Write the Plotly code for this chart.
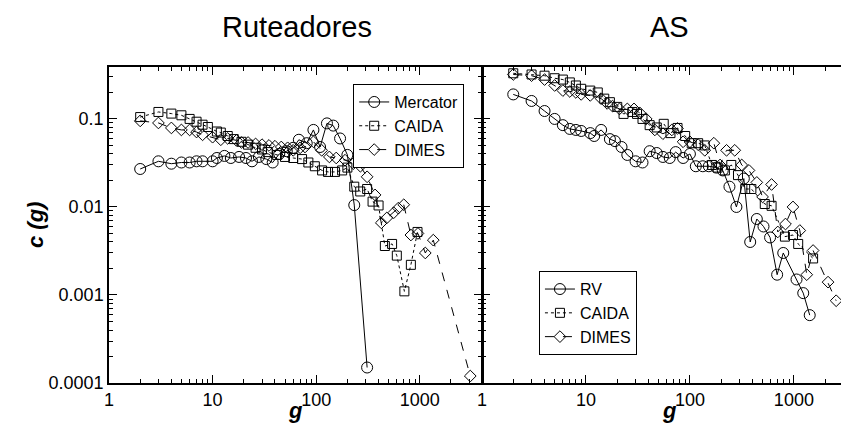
import plotly.graph_objects as go
from plotly.subplots import make_subplots

# ---- Left panel: Ruteadores ----
merc_g = [2, 3, 4, 5, 6, 7, 8, 10, 11, 13, 15, 18, 21, 24, 28, 33, 38, 44, 52, 60, 68, 81, 94, 109, 127, 146, 170, 200, 233, 310]
merc_c = [0.027, 0.033, 0.031, 0.032, 0.032, 0.033, 0.033, 0.033, 0.036, 0.038, 0.036, 0.037, 0.036, 0.033, 0.037,
          0.035, 0.032, 0.040, 0.043, 0.047, 0.058, 0.053, 0.075, 0.048, 0.089, 0.084, 0.060, 0.039, 0.0105, 0.00015]

caida_r_g = [2, 3, 4, 5, 6, 7, 8, 9, 11, 12, 14, 16, 19, 22, 26, 30, 34, 42, 50, 60, 73, 84, 97, 114, 130, 152, 178,
             200, 233, 266, 310, 350, 400, 460, 540, 600, 710, 820, 950]
caida_r_c = [0.105, 0.12, 0.115, 0.11, 0.10, 0.093, 0.086, 0.081, 0.072, 0.07, 0.064, 0.059, 0.055, 0.051, 0.047,
             0.045, 0.042, 0.039, 0.037, 0.036, 0.035, 0.032, 0.029, 0.026, 0.025, 0.025, 0.026, 0.028, 0.017,
             0.015, 0.016, 0.0115, 0.0104, 0.0036, 0.0038, 0.0028, 0.0011, 0.0022, 0.0052]

dimes_r_g = [2, 3, 4, 5, 6, 7, 8, 10, 12, 14, 17, 19, 22, 26, 30, 35, 40, 46, 53, 60, 70, 78, 94, 113, 134, 156, 190,
             228, 267, 310, 370, 425, 480, 560, 620, 700, 820, 960, 1130, 1350, 3070]
dimes_r_c = [0.095, 0.09, 0.079, 0.075, 0.075, 0.071, 0.066, 0.062, 0.058, 0.06, 0.057, 0.054, 0.054, 0.052, 0.051,
             0.05, 0.049, 0.048, 0.047, 0.044, 0.047, 0.048, 0.055, 0.044, 0.037, 0.036, 0.034, 0.031, 0.029,
             0.022, 0.0137, 0.0066, 0.0075, 0.0086, 0.0097, 0.0106, 0.0048, 0.005, 0.003, 0.0042, 0.00012]

# ---- Right panel: AS ----
rv_g = [2, 3, 4, 5, 6, 7, 8, 9, 11, 12, 14, 17, 19, 22, 25, 30, 35, 41, 48, 55, 64, 73, 86, 100, 114, 133, 152, 180,
        207, 240, 280, 330, 380, 440, 510, 590, 690, 790, 1060, 1230, 1420]
rv_c = [0.19, 0.16, 0.123, 0.10, 0.085, 0.077, 0.075, 0.073, 0.069, 0.064, 0.075, 0.059, 0.056, 0.048, 0.039, 0.033,
        0.032, 0.043, 0.041, 0.037, 0.036, 0.042, 0.036, 0.040, 0.029, 0.029, 0.029, 0.028, 0.026, 0.017, 0.010,
        0.021, 0.004, 0.0073, 0.006, 0.0045, 0.0017, 0.003, 0.0015, 0.00105, 0.00059]

caida_a_g = [2, 3, 4, 5, 6, 7, 8, 9, 11, 13, 15, 17, 20, 23, 28, 31, 35, 41, 48, 56, 65, 76, 90, 104, 120, 139, 163,
             185, 217, 250, 290, 340, 390, 525, 610, 820, 980, 1100, 1530]
caida_a_c = [0.33, 0.32, 0.31, 0.29, 0.28, 0.26, 0.24, 0.22, 0.21, 0.20, 0.17, 0.155, 0.137, 0.114, 0.12, 0.114, 0.10,
             0.085, 0.08, 0.088, 0.069, 0.079, 0.064, 0.053, 0.053, 0.05, 0.030, 0.028, 0.026, 0.030, 0.023, 0.016,
             0.016, 0.0108, 0.0103, 0.0046, 0.0048, 0.0038, 0.0026]

dimes_a_g = [2, 3, 4, 5, 6, 7, 8, 9, 11, 14, 16, 18, 21, 25, 29, 33, 38, 46, 55, 67, 76, 86, 100, 120, 139, 170, 195,
             225, 270, 315, 370, 440, 500, 610, 700, 830, 980, 1140, 1330, 1530, 2130, 2550]
dimes_a_c = [0.32, 0.31, 0.28, 0.24, 0.21, 0.205, 0.2, 0.19, 0.185, 0.17, 0.15, 0.14, 0.13, 0.13, 0.13, 0.117, 0.10,
             0.075, 0.068, 0.075, 0.078, 0.055, 0.055, 0.051, 0.044, 0.053, 0.030, 0.044, 0.044, 0.030, 0.026,
             0.019, 0.013, 0.018, 0.0052, 0.0064, 0.010, 0.0054, 0.0017, 0.0032, 0.0014, 0.00086]

x_tickvals = [1, 10, 100, 1000]
x_ticktext = ["1", "10", "100", "1000"]
y_tickvals = [0.0001, 0.001, 0.01, 0.1]
y_ticktext = ["0.0001", "0.001", "0.01", "0.1"]

FONT = "Liberation Sans, Arial, sans-serif"

fig = make_subplots(rows=1, cols=2, horizontal_spacing=0, shared_yaxes=False)

def add(g, c, name, symbol, dash, col, legend, size):
    fig.add_trace(go.Scatter(
        x=g, y=c, name=name, mode="lines+markers",
        line=dict(color="black", width=1, dash=dash),
        marker=dict(symbol=symbol, size=size, color="black", line=dict(width=1, color="black")),
        legend=legend), row=1, col=col)

add(merc_g, merc_c, "Mercator", "circle-open", "solid", 1, "legend", 11)
add(caida_r_g, caida_r_c, "CAIDA", "square-open", "dot", 1, "legend", 9)
add(dimes_r_g, dimes_r_c, "DIMES", "diamond-open", "dash", 1, "legend", 9)
add(rv_g, rv_c, "RV", "circle-open", "solid", 2, "legend2", 11)
add(caida_a_g, caida_a_c, "CAIDA", "square-open", "dot", 2, "legend2", 9)
add(dimes_a_g, dimes_a_c, "DIMES", "diamond-open", "dash", 2, "legend2", 9)

minor_vals = [m * 10 ** e for e in range(-5, 4) for m in range(2, 10)]

axis_common = dict(
    type="log", showgrid=False, zeroline=False, showline=True, linecolor="black",
    mirror="allticks", ticks="inside", ticklen=8, tickwidth=1, tickcolor="black", automargin=False,
    minor=dict(ticks="inside", ticklen=4, tickwidth=1, tickcolor="black", showgrid=False,
               tickmode="array", tickvals=minor_vals),
    tickfont=dict(family=FONT, size=18, color="black"),
)

fig.update_xaxes(**axis_common, linewidth=1.5, tickmode="array", tickvals=x_tickvals, ticktext=x_ticktext)
fig.update_xaxes(range=[0, 3.6], row=1, col=1)
fig.update_xaxes(range=[0, 3.53], row=1, col=2)
fig.update_yaxes(**axis_common, linewidth=1.5, tickmode="array", tickvals=y_tickvals, ticktext=y_ticktext,
                 range=[-4, -0.41])
fig.update_yaxes(showticklabels=False, linewidth=1, row=1, col=2)

legend_style = dict(xanchor="left", yanchor="top", bgcolor="white", bordercolor="black", borderwidth=1,
                    font=dict(family=FONT, size=16, color="black"), tracegroupgap=0, itemwidth=30)

# the page adds an 8px body margin, so the figure is 8px smaller than the window
fig.update_layout(
    width=841, height=417,
    margin=dict(l=101, r=0, t=59, b=42, autoexpand=False),
    paper_bgcolor="white", plot_bgcolor="white",
    font=dict(family=FONT, color="black"),
    xaxis=dict(domain=[0, 0.504]),
    xaxis2=dict(domain=[0.504, 1.0]),
    legend=dict(x=0.33, y=0.946, **legend_style),
    legend2=dict(x=0.581, y=0.354, **legend_style),
    showlegend=True,
)

for text, x in [("Ruteadores", 0.254), ("AS", 0.758)]:
    fig.add_annotation(text=text, x=x, y=1.127, xref="paper", yref="paper",
                       showarrow=False, xanchor="center", yanchor="middle",
                       font=dict(family=FONT, size=29, color="black"))

fig.add_annotation(text="<b><i>c (g)</i></b>", x=-0.1, y=0.5, xref="paper", yref="paper", textangle=-90,
                   showarrow=False, xanchor="center", yanchor="middle",
                   font=dict(family=FONT, size=22, color="black"))
for gx in [0.252, 0.758]:
    fig.add_annotation(text="<b><i>g</i></b>", x=gx, y=-0.133, xref="paper", yref="paper",
                       showarrow=False, xanchor="center", yanchor="bottom",
                       font=dict(family=FONT, size=22, color="black"))

fig.write_html("out.html")
